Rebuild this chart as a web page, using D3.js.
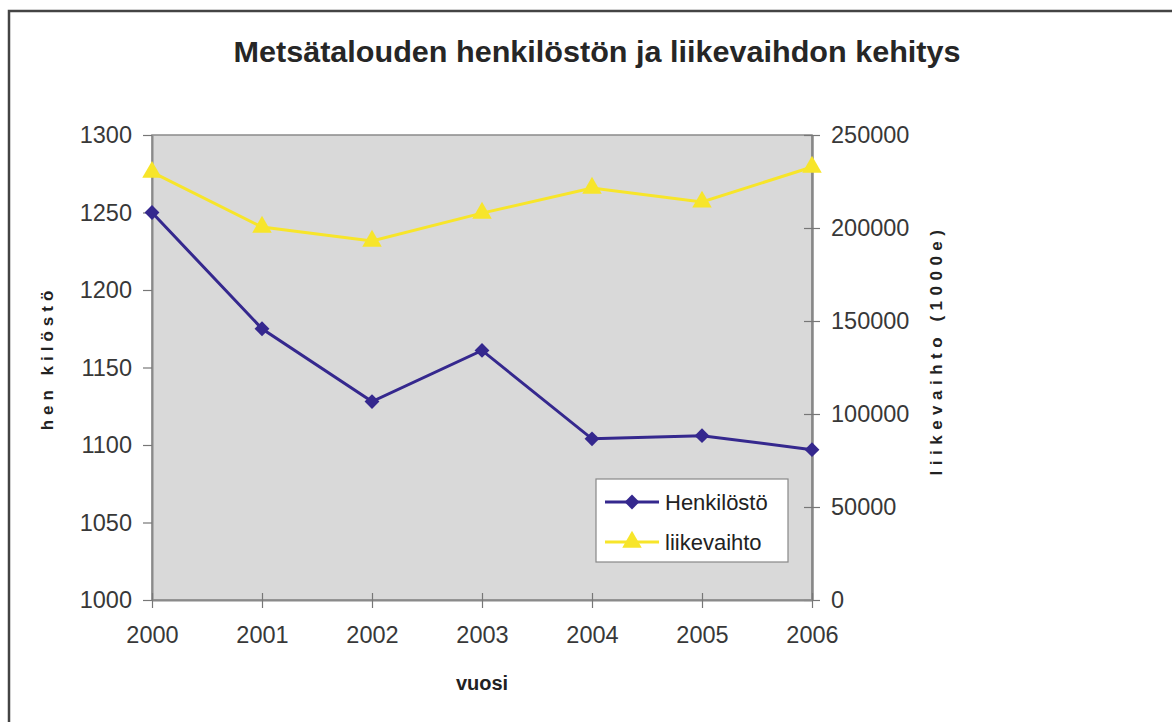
<!DOCTYPE html>
<html>
<head>
<meta charset="utf-8">
<script src="https://cdn.jsdelivr.net/npm/d3@7"></script>
<style>
  body { margin: 0; background: #fff; }
  svg { display: block; font-family: "Liberation Sans", Arial, sans-serif; }
</style>
</head>
<body>
<svg id="chart" width="1172" height="722"></svg>
<script>
// data
var years = [2000, 2001, 2002, 2003, 2004, 2005, 2006];
var henkilosto = [1250, 1175, 1128, 1161, 1104, 1106, 1097];
var liikevaihto = [230000, 200500, 193000, 208000, 221500, 214000, 232800];
var leftTicks = [1000, 1050, 1100, 1150, 1200, 1250, 1300];
var rightTicks = [0, 50000, 100000, 150000, 200000, 250000];

var W = 1172, H = 722;
var margin = { left: 152, top: 135, right: 812, bottom: 600 };
var svg = d3.select("#chart");

// outer frame (only left/top visible in the crop)
svg.append("rect")
    .attr("x", 9).attr("y", 11)
    .attr("width", W + 20).attr("height", H + 20)
    .attr("fill", "#fff")
    .attr("stroke", "#444")
    .attr("stroke-width", 2.5);

var x = d3.scalePoint().domain(years).range([margin.left, margin.right]);
var yL = d3.scaleLinear().domain([1000, 1300]).range([margin.bottom, margin.top]);
var yR = d3.scaleLinear().domain([0, 250000]).range([margin.bottom, margin.top]);

// plot background
svg.append("rect")
    .attr("x", margin.left).attr("y", margin.top)
    .attr("width", margin.right - margin.left)
    .attr("height", margin.bottom - margin.top)
    .attr("fill", "#d9d9d9")
    .attr("stroke", "#8a8a8a")
    .attr("stroke-width", 1.5);

// title
svg.append("text")
    .attr("x", 597).attr("y", 62)
    .attr("text-anchor", "middle")
    .attr("font-size", 29)
    .attr("font-weight", "bold")
    .attr("fill", "#262626")
    .attr("textLength", 727)
    .attr("lengthAdjust", "spacingAndGlyphs")
    .text("Metsätalouden henkilöstön ja liikevaihdon kehitys");

// left axis
var gL = svg.append("g")
    .attr("transform", "translate(" + margin.left + ",0)")
    .call(d3.axisLeft(yL).tickValues(leftTicks).tickSize(9).tickSizeOuter(0).tickPadding(11).tickFormat(d3.format("d")));
// right axis
var gR = svg.append("g")
    .attr("transform", "translate(" + margin.right + ",0)")
    .call(d3.axisRight(yR).tickValues(rightTicks).tickSize(8).tickSizeOuter(0).tickPadding(11).tickFormat(d3.format("d")));
gR.selectAll(".tick line").attr("x1", -8);
// bottom axis
var gB = svg.append("g")
    .attr("transform", "translate(0," + margin.bottom + ")")
    .call(d3.axisBottom(x).tickSize(8).tickSizeOuter(0).tickPadding(18));
gB.selectAll(".tick line").attr("y1", -7);

[gL, gR, gB].forEach(function(g) {
    g.select(".domain").attr("stroke", "#8a8a8a").attr("stroke-width", 2);
    g.selectAll(".tick line").attr("stroke", "#777").attr("stroke-width", 1.2);
    g.selectAll(".tick text")
        .attr("font-size", 23.5)
        .attr("fill", "#383838")
        .attr("font-family", "Liberation Sans, Arial, sans-serif");
});
gR.select(".domain").attr("stroke", "#888").attr("stroke-width", 2.5);

// axis titles
svg.append("text")
    .attr("x", 482).attr("y", 690)
    .attr("text-anchor", "middle")
    .attr("font-size", 20)
    .attr("font-weight", "bold")
    .attr("fill", "#222")
    .text("vuosi");

svg.append("text")
    .attr("transform", "translate(53,358) rotate(-90)")
    .attr("text-anchor", "middle")
    .attr("font-size", 17)
    .attr("font-weight", "bold")
    .attr("fill", "#222")
    .attr("letter-spacing", "5px")
    .text("hen kilöstö");

svg.append("text")
    .attr("transform", "translate(942,350) rotate(-90)")
    .attr("text-anchor", "middle")
    .attr("font-size", 17)
    .attr("font-weight", "bold")
    .attr("fill", "#222")
    .attr("letter-spacing", "5.5px")
    .text("liikevaihto (1000e)");

var blue = "#35288e", yellow = "#f7e52a";

// lines
var lineL = d3.line().x(function(d, i) { return x(years[i]); }).y(function(d) { return yL(d); });
var lineR = d3.line().x(function(d, i) { return x(years[i]); }).y(function(d) { return yR(d); });

svg.append("path").datum(liikevaihto)
    .attr("d", lineR).attr("fill", "none")
    .attr("stroke", yellow).attr("stroke-width", 3);
svg.append("path").datum(henkilosto)
    .attr("d", lineL).attr("fill", "none")
    .attr("stroke", blue).attr("stroke-width", 3);

var diamond = d3.symbol().type(d3.symbolDiamond2).size(140);
var triangle = d3.symbol().type(d3.symbolTriangle).size(165);

svg.selectAll(".tri").data(liikevaihto).enter().append("path")
    .attr("transform", function(d, i) { return "translate(" + x(years[i]) + "," + yR(d) + ")"; })
    .attr("d", triangle).attr("fill", yellow);
svg.selectAll(".dia").data(henkilosto).enter().append("path")
    .attr("transform", function(d, i) { return "translate(" + x(years[i]) + "," + yL(d) + ")"; })
    .attr("d", diamond).attr("fill", blue);

// legend
var legend = svg.append("g");
legend.append("rect")
    .attr("x", 596).attr("y", 479).attr("width", 192).attr("height", 83)
    .attr("fill", "#fff").attr("stroke", "#888").attr("stroke-width", 1.2);
var items = [
    { name: "Henkilöstö", color: blue, sym: diamond, y: 502 },
    { name: "liikevaihto", color: yellow, sym: triangle, y: 542 }
];
items.forEach(function(it) {
    legend.append("line")
        .attr("x1", 605).attr("x2", 659).attr("y1", it.y).attr("y2", it.y)
        .attr("stroke", it.color).attr("stroke-width", 3);
    legend.append("path")
        .attr("transform", "translate(632," + it.y + ")")
        .attr("d", it.sym).attr("fill", it.color);
    legend.append("text")
        .attr("x", 665).attr("y", it.y + 8)
        .attr("font-size", 22)
        .attr("fill", "#222")
        .text(it.name);
});
</script>
</body>
</html>
